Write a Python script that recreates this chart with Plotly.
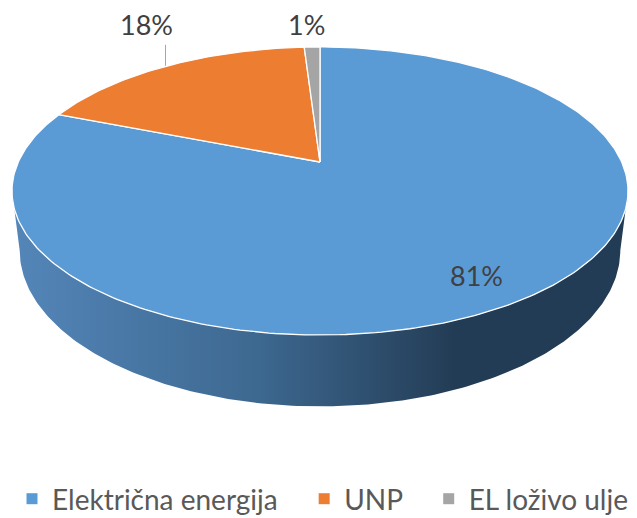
import numpy as np
import plotly.graph_objects as go

# ---- data ----
categories = ["Električna energija", "UNP", "EL loživo ulje"]
values = [81, 18, 1]
slice_colors = ["#5B9BD5", "#ED7D31", "#A5A5A5"]

# ---- geometry (pixel space, perspective pie) ----
W, H = 637, 518
OFF = 8                    # page body margin compensation
CX, CY = 320, 162          # projected centre of the pie
A, B, K = 301.7, 138.2, 0.2013
DEPTH = 57
SHRINK = 0.975
FONT = "Lato"
TXT = "#404040"


def proj(theta, r=1.0):
    """theta: clockwise angle from 12 o'clock (radians)."""
    u, v = np.sin(theta) * r, np.cos(theta) * r
    den = 1 + K * v
    return CX + A * u / den, CY - B * v / den


total = float(sum(values))
fractions = [v / total for v in values]
starts = np.cumsum([0] + fractions[:-1])

fig = go.Figure()

# side wall (front half of the cylinder)
t_side = np.linspace(np.arccos(-K), 2 * np.pi - np.arccos(-K), 200)
tx, ty = proj(t_side)
vv = np.cos(t_side)
bx = CX + (tx - CX) * SHRINK
by = ty + DEPTH / (1 + K * vv)
side_x = np.concatenate([tx, bx[::-1], tx[:1]])
side_y = np.concatenate([ty, by[::-1], ty[:1]])
fig.add_trace(go.Scatter(
    x=side_x, y=side_y, mode="lines", fill="toself",
    line=dict(width=0, color="rgba(0,0,0,0)"),
    fillgradient=dict(type="horizontal",
                      colorscale=[[0, "#5486B9"], [0.4, "#3D6890"],
                                  [0.72, "#233C55"], [1, "#233C55"]]),
    hoverinfo="skip", showlegend=False))

# top-face wedges
for cat, f, s, col in zip(categories, fractions, starts, slice_colors):
    th = np.linspace(s * 2 * np.pi, (s + f) * 2 * np.pi, max(8, int(f * 400)))
    px, py = proj(th)
    xs = np.concatenate([[CX], px, [CX]])
    ys = np.concatenate([[CY], py, [CY]])
    fig.add_trace(go.Scatter(
        x=xs, y=ys, mode="lines", fill="toself", fillcolor=col,
        line=dict(color="white", width=1.3),
        name=cat, hoverinfo="name", showlegend=False))

# legend entries (non-breaking spaces widen the gap between entries)
PAD = "\u00a0\u00a0\u00a0"
for i, (cat, col) in enumerate(zip(categories, slice_colors)):
    fig.add_trace(go.Scatter(
        x=[None], y=[None], mode="markers",
        name=cat + (PAD if i < len(categories) - 1 else ""),
        marker=dict(symbol="square", size=11, color=col)))

# data labels
annotations = []
for i, (f, s) in enumerate(zip(fractions, starts)):
    mid = (s + f / 2) * 2 * np.pi
    txt = f"{values[i] / total * 100:.0f}%"
    if f > 0.5:
        lx, ly = proj(mid, 0.80)
        annotations.append(dict(x=float(lx), y=float(ly) + 8, text=txt,
                                showarrow=False, xref="x", yref="y",
                                font=dict(family=FONT, size=27, color=TXT)))
    else:
        ex, ey = proj(mid)
        if f > 0.05:
            fig.add_trace(go.Scatter(
                x=[float(ex) - 2, float(ex) - 2], y=[float(ey), float(ey) - 21],
                mode="lines", line=dict(color="#A6A6A6", width=1),
                hoverinfo="skip", showlegend=False))
            annotations.append(dict(x=float(ex) - 21, y=float(ey) - 41, text=txt,
                                    showarrow=False, xref="x", yref="y",
                                    font=dict(family=FONT, size=27, color=TXT)))
        else:
            annotations.append(dict(x=float(ex) - 6, y=float(ey) - 23, text=txt,
                                    showarrow=False, xref="x", yref="y",
                                    font=dict(family=FONT, size=27, color=TXT)))

fig.update_layout(
    width=W - OFF, height=H - OFF,
    margin=dict(l=0, r=0, t=0, b=0, autoexpand=False),
    paper_bgcolor="white", plot_bgcolor="white",
    xaxis=dict(range=[OFF, W], visible=False, fixedrange=True),
    yaxis=dict(range=[H, OFF], visible=False, fixedrange=True),
    showlegend=True,
    legend=dict(orientation="h", x=0.5, xanchor="center",
                y=1 - (499 - OFF) / (H - OFF), yanchor="middle",
                font=dict(family=FONT, size=28, color="#595959"),
                itemwidth=30, bgcolor="rgba(0,0,0,0)"),
    annotations=annotations,
)

fig.write_html("out.html")
